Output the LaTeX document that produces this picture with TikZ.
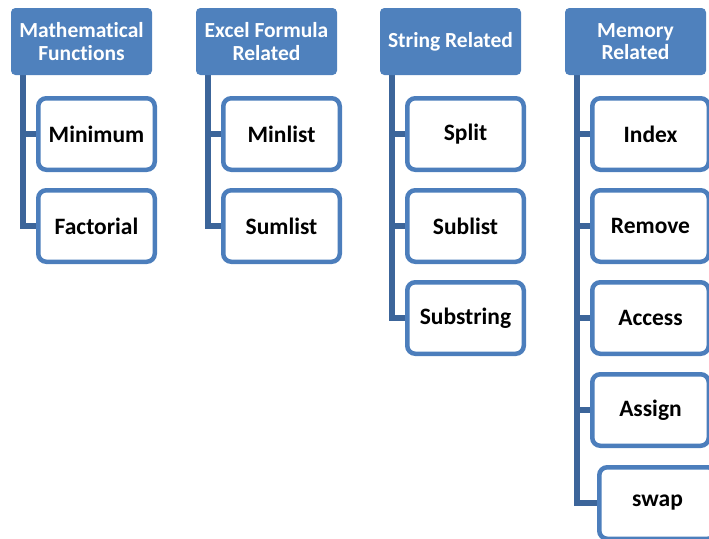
\documentclass[tikz,border=0pt]{standalone}
\usepackage{fontspec}
\setmainfont{Carlito}[Ligatures=NoCommon]
\usetikzlibrary{backgrounds}
\definecolor{hdrblue}{RGB}{79,129,189}
\definecolor{boxblue}{RGB}{76,126,188}
\definecolor{linkblue}{RGB}{60,101,154}
\tikzset{
  hdr/.style={rectangle, rounded corners=4pt, fill=hdrblue, draw=hdrblue, line width=1pt,
    minimum width=140pt, minimum height=66pt, inner sep=0pt, text=white, align=center,
    font=\bfseries\fontsize{21.5}{22.5}\selectfont},
  leaf/.style={rectangle, rounded corners=8pt, fill=white, draw=boxblue, line width=4.5pt,
    minimum width=116.5pt, minimum height=71.5pt, inner sep=0pt, text=black,
    font=\bfseries\fontsize{23.5}{25}\selectfont},
  link/.style={draw=linkblue, line width=5.5pt, line join=miter}
}
\begin{document}
\begin{tikzpicture}[x=1pt,y=-1pt]
\useasboundingbox (0,0) rectangle (709,538);
\clip (0,0) rectangle (709,538);

% top-level categories
\node[hdr] (h1) at (81.5,41.5) {Mathematical\\Functions};
\node[hdr] (h2) at (266.5,41.5) {Excel Formula\\Related};
\node[hdr] (h3) at (450.5,41.5) {String Related};
\node[hdr] (h4) at (635.5,41.5) {Memory\\Related};

% members of each category
\node[leaf] (a1) at (96.5,134) {Minimum};
\node[leaf] (a2) at (96.5,226) {Factorial};

\node[leaf] (b1) at (281.5,134) {Minlist};
\node[leaf] (b2) at (281.5,226) {Sumlist};

\node[leaf] (c1) at (465.5,134) {Split};
\node[leaf] (c2) at (465.5,226) {Sublist};
\node[leaf] (c3) at (465.5,318) {Substring};

\node[leaf] (d1) at (650.5,134) {Index};
\node[leaf] (d2) at (650.5,226) {Remove};
\node[leaf] (d3) at (650.5,318) {Access};
\node[leaf] (d4) at (650.5,410) {Assign};
\node[leaf] (d5) at (657.5,503) {swap};

% trunk lines with a branch to each member, kept behind the boxes
\begin{scope}[on background layer]
\foreach \h/\list in {h1/{a1,a2}, h2/{b1,b2}, h3/{c1,c2,c3}, h4/{d1,d2,d3,d4,d5}}{
  \foreach \c in \list {
    \draw[link] ([xshift=12pt,yshift=0.5pt]\h.south west) |- (\c.west);
  }
}
\end{scope}
\end{tikzpicture}
\end{document}
